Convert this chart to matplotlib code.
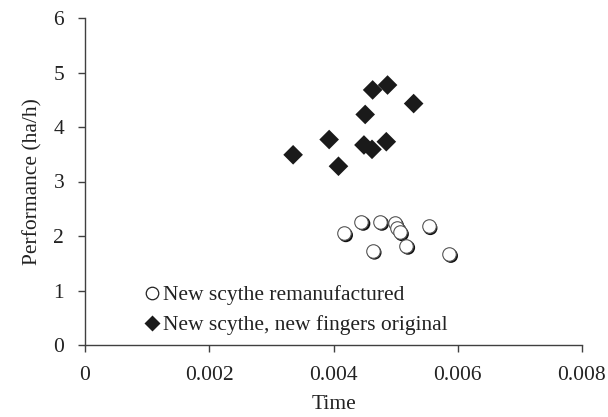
import numpy as np
import matplotlib
matplotlib.use('Agg')
import matplotlib.pyplot as plt
import matplotlib.transforms as mtrans
from matplotlib.lines import Line2D

plt.rcParams['font.family'] = ['Liberation Serif', 'DejaVu Serif']
plt.rcParams['font.size'] = 15.5

# New scythe remanufactured
remanTime = [0.00417, 0.00445, 0.00475, 0.00499, 0.00503, 0.00507, 0.00463, 0.00517, 0.00553, 0.00586]
remanPerf = [2.05, 2.26, 2.26, 2.23, 2.14, 2.07, 1.73, 1.82, 2.18, 1.67]

# New scythe, new fingers original
origTime = [0.00335, 0.00393, 0.00408, 0.00451, 0.00463, 0.00487, 0.00529, 0.00449, 0.00462, 0.00485]
origPerf = [3.49, 3.77, 3.28, 4.23, 4.68, 4.77, 4.43, 3.67, 3.59, 3.73]

xTicks = [0, 0.002, 0.004, 0.006, 0.008]
xTickLabels = ['0', '0.002', '0.004', '0.006', '0.008']
yTicks = [0, 1, 2, 3, 4, 5, 6]

labels = ['New scythe remanufactured', 'New scythe, new fingers original']

fig = plt.figure(figsize=(6.08, 4.17), dpi=100)
ax = fig.add_axes([85/608, 1 - 345/417, (582 - 85)/608, (345 - 18)/417])

# shadowed circles: dark disc nudged down-right, white disc on top
shadow = mtrans.offset_copy(ax.transData, fig=fig, x=1.8, y=-1.8, units='dots')
ax.scatter(remanTime, remanPerf, s=105, c='#111111', edgecolors='none', transform=shadow, zorder=2)
ax.scatter(remanTime, remanPerf, s=95, c='white', edgecolors='#555555', linewidths=0.8, zorder=3)

ax.scatter(origTime, origPerf, s=100, marker='D', c='#1a1a1a', edgecolors='none', zorder=3)

ax.set_xlim(0, 0.008)
ax.set_ylim(0, 6)
ax.set_xticks(xTicks)
ax.set_xticklabels(xTickLabels)
ax.set_yticks(yTicks)
ax.spines['top'].set_visible(False)
ax.spines['right'].set_visible(False)
for side in ['left', 'bottom']:
	ax.spines[side].set_color('#404040')
	ax.spines[side].set_linewidth(1.0)
ax.tick_params(direction='out', length=5, width=1.0, color='#404040', labelcolor='#222222')
ax.tick_params(axis='x', pad=10)
ax.tick_params(axis='y', pad=10)

ax.set_xlabel('Time', labelpad=7, color='#222222')
ax.set_ylabel('Performance (ha/h)', labelpad=8, color='#222222')

handles = [
	Line2D([], [], ls='none', marker='o', ms=9, mfc='white', mec='#222222', mew=0.9),
	Line2D([], [], ls='none', marker='D', ms=8, mfc='#1a1a1a', mec='none'),
]
ax.legend(handles, labels, loc='lower left', bbox_to_anchor=(0.118, 0.03),
	frameon=False, borderpad=0, borderaxespad=0, handlelength=0.8,
	handletextpad=0.1, labelspacing=0.45, labelcolor='#222222')

fig.savefig('out.png', dpi=100)
